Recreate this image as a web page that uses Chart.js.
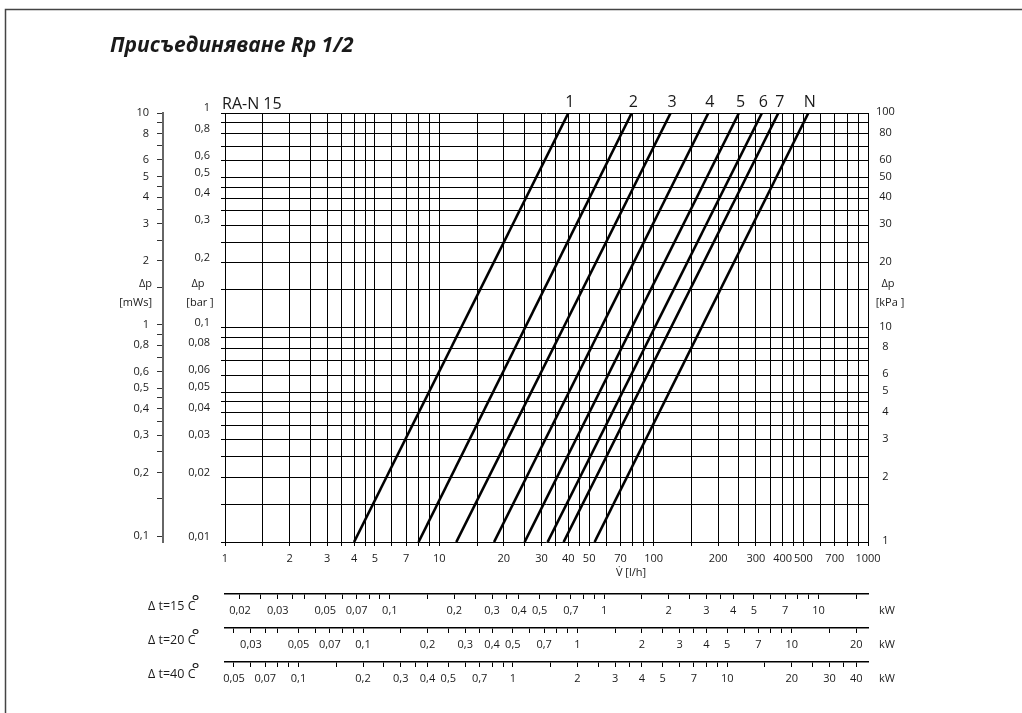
<!DOCTYPE html>
<html>
<head>
<meta charset="utf-8">
<title>RA-N 15</title>
<script src="https://cdn.jsdelivr.net/npm/chart.js@4/dist/chart.umd.min.js"></script>
<style>
    html, body { margin: 0; padding: 0; background: #fff; }
    canvas { display: block; }
</style>
</head>
<body>
<canvas id="raChart" width="1022" height="713"></canvas>
<script>
// texts on the sheet
var titleText = 'Присъединяване Rp 1/2';
var valveName = 'RA-N 15';
var flowTitle = 'V\u0307 [l/h]';
var unitTexts = ['[mWs]', '[bar ]', '[kPa ]'];

// presetting curves: flow [l/h] where each curve meets 0,01 bar and 1 bar
var curveNames = ['1', '2', '3', '4', '5', '6', '7', 'N'];
var flowAtBottom = [4, 8, 12, 18, 25, 32, 38, 53];
var flowAtTop = [40, 79, 120, 180, 250, 320, 382, 527];
var dpBottom = 0.01;
var dpTop = 1;

// axis ranges
var flowRange = [1, 1000];
var barRange = [0.01, 1];
var mwsRange = [0.0938, 10];
var kpaRange = [1, 100];

// grid / tick steps inside every decade
var gridSteps = [1, 1.5, 2, 2.5, 3, 3.5, 4, 4.5, 5, 6, 7, 8, 9];
var kwSteps = [1, 1.5, 2, 2.5, 3, 3.5, 4, 5, 6, 7, 8, 9];

// tick labels
var flowLabels = [1, 2, 3, 4, 5, 7, 10, 20, 30, 40, 50, 70, 100, 200, 300, 400, 500, 700, 1000];
var barLabels = [1, 0.8, 0.6, 0.5, 0.4, 0.3, 0.2, 0.1, 0.08, 0.06, 0.05, 0.04, 0.03, 0.02, 0.01];
var mwsLabels = [10, 8, 6, 5, 4, 3, 2, 1, 0.8, 0.6, 0.5, 0.4, 0.3, 0.2, 0.1];
var kpaLabels = [100, 80, 60, 50, 40, 30, 20, 10, 8, 6, 5, 4, 3, 2, 1];

// heat output scales under the flow axis
var deltaT = [15, 20, 40];
var kwPerLphK = 0.001135;
var kwLabels15 = [0.02, 0.03, 0.05, 0.07, 0.1, 0.2, 0.3, 0.4, 0.5, 0.7, 1, 2, 3, 4, 5, 7, 10];
var kwLabels20 = [0.03, 0.05, 0.07, 0.1, 0.2, 0.3, 0.4, 0.5, 0.7, 1, 2, 3, 4, 5, 7, 10, 20];
var kwLabels40 = [0.05, 0.07, 0.1, 0.2, 0.3, 0.4, 0.5, 0.7, 1, 2, 3, 4, 5, 7, 10, 20, 30, 40];
var kwLabels = [kwLabels15, kwLabels20, kwLabels40];

var FONT = '"Open Sans", "DejaVu Sans", sans-serif';
var INK = '#1a1a1a';

function decadeValues(min, max, steps) {
    var out = [];
    for (var e = Math.floor(Math.log10(min)); e <= Math.ceil(Math.log10(max)); e++) {
        steps.forEach(function (s) {
            var v = +(s * Math.pow(10, e)).toPrecision(6);
            if (v >= min * 0.9999 && v <= max * 1.0001) {
                out.push(v);
            }
        });
    }
    return out;
}

function fmt(v) {
    return String(+v.toPrecision(6)).replace('.', ',');
}

function labelCallback(list) {
    return function (v) {
        var hit = list.some(function (l) { return Math.abs(l - v) / l < 1e-6; });
        return hit ? fmt(v) : '';
    };
}

function setTicks(steps) {
    return function (scale) {
        scale.ticks = decadeValues(scale.min, scale.max, steps).map(function (v) {
            return { value: v };
        });
    };
}

function kwScale(i) {
    return {
        type: 'logarithmic',
        position: 'bottom',
        weight: i + 1,
        min: flowRange[0] * deltaT[i] * kwPerLphK,
        max: flowRange[1] * deltaT[i] * kwPerLphK,
        afterBuildTicks: setTicks(kwSteps),
        afterFit: function (s) { s.height = 34; },
        grid: { drawOnChartArea: false, drawTicks: true, tickLength: 5, color: '#000', lineWidth: 1 },
        border: { display: true, color: '#000', width: 1.5 },
        ticks: {
            autoSkip: false, maxRotation: 0, minRotation: 0, padding: 5,
            color: INK, font: { family: FONT, size: 11 },
            callback: labelCallback(kwLabels[i])
        }
    };
}

// all the loose texts of the sheet
var sheetText = {
    id: 'sheetText',
    afterDraw: function (chart) {
        var ctx = chart.ctx;
        var ca = chart.chartArea;
        var sc = chart.scales;
        ctx.save();

        // frame (top and left edge only)
        ctx.strokeStyle = '#444';
        ctx.lineWidth = 1.5;
        ctx.beginPath();
        ctx.moveTo(1022, 9.5);
        ctx.lineTo(5.5, 9.5);
        ctx.lineTo(5.5, 713);
        ctx.stroke();

        ctx.fillStyle = INK;
        ctx.textBaseline = 'alphabetic';

        // title
        ctx.font = 'italic bold 21px ' + FONT;
        ctx.textAlign = 'left';
        ctx.fillText(titleText, 110, 51.5);

        // valve name and curve names
        ctx.font = '16px ' + FONT;
        ctx.fillText(valveName, 222, 109);
        ctx.textAlign = 'center';
        chart.data.datasets.forEach(function (ds, i) {
            var pt = chart.getDatasetMeta(i).data[1];
            ctx.fillText(ds.label, pt.x + 1.5, 106.5);
        });

        // Δp + unit next to the three pressure scales
        ctx.font = '11px ' + FONT;
        ctx.textBaseline = 'middle';
        var py = sc.y.getPixelForValue(0.15);
        [[sc.mws, 'right', 152], [sc.y, 'center', 198], [sc.kpa, 'center', 888]].forEach(function (a, i) {
            ctx.textAlign = a[1];
            ctx.fillText('Δp', a[2], py - 6);
            ctx.fillText(unitTexts[i], a[2] + (i === 0 ? 0 : 2), py + 13);
        });

        // flow title
        ctx.textAlign = 'center';
        ctx.fillText(flowTitle, 631, sc.x.top + 31);

        // heat output captions
        deltaT.forEach(function (dt, i) {
            var s = sc['kw' + dt];
            var caption = 'Δ t=' + dt + ' C';
            ctx.font = '12.5px ' + FONT;
            ctx.textAlign = 'left';
            ctx.fillText(caption, 148, s.top + 12);
            var w = ctx.measureText(caption).width;
            ctx.font = '19px ' + FONT;
            ctx.fillText('°', 148 + w - 4, s.top + 9);
            ctx.font = '11px ' + FONT;
            ctx.textAlign = 'center';
            ctx.fillText('kW', ca.right + 19, s.top + 17);
        });

        ctx.restore();
    }
};

var datasets = curveNames.map(function (name, i) {
    return {
        label: name,
        data: [{ x: flowAtBottom[i], y: dpBottom }, { x: flowAtTop[i], y: dpTop }],
        borderColor: '#000',
        borderWidth: 2.6,
        pointRadius: 0,
        fill: false,
        tension: 0
    };
});

var scales = {
    x: {
        type: 'logarithmic',
        position: 'bottom',
        weight: 0,
        min: flowRange[0],
        max: flowRange[1],
        afterBuildTicks: setTicks(gridSteps),
        afterFit: function (s) { s.height = 52; },
        grid: { color: '#000', lineWidth: 1, drawTicks: true, tickLength: 4 },
        border: { display: false },
        ticks: {
            autoSkip: false, maxRotation: 0, minRotation: 0, padding: 6,
            color: INK, font: { family: FONT, size: 11 },
            callback: labelCallback(flowLabels)
        }
    },
    y: {
        type: 'logarithmic',
        position: 'left',
        weight: 1,
        min: barRange[0],
        max: barRange[1],
        afterBuildTicks: setTicks(gridSteps),
        afterFit: function (s) { s.width = 62; },
        grid: { color: '#000', lineWidth: 1, drawTicks: true, tickLength: 4 },
        border: { display: false },
        ticks: {
            autoSkip: false, padding: 11, labelOffset: -5,
            color: INK, font: { family: FONT, size: 11 },
            callback: labelCallback(barLabels)
        }
    },
    mws: {
        type: 'logarithmic',
        position: 'left',
        weight: 2,
        min: mwsRange[0],
        max: mwsRange[1],
        afterBuildTicks: setTicks(gridSteps),
        afterFit: function (s) { s.width = 63; },
        grid: { drawOnChartArea: false, drawTicks: true, tickLength: 6, color: '#333', lineWidth: 1 },
        border: { display: true, color: '#666', width: 2 },
        ticks: {
            autoSkip: false, padding: 8,
            color: INK, font: { family: FONT, size: 11 },
            callback: labelCallback(mwsLabels)
        }
    },
    kpa: {
        type: 'logarithmic',
        position: 'right',
        min: kpaRange[0],
        max: kpaRange[1],
        afterBuildTicks: setTicks(gridSteps),
        afterFit: function (s) { s.width = 44; },
        grid: { display: false, drawTicks: false },
        border: { display: false },
        ticks: {
            autoSkip: false, padding: 8, crossAlign: 'center', labelOffset: -1,
            color: INK, font: { family: FONT, size: 11 },
            callback: labelCallback(kpaLabels)
        }
    }
};
deltaT.forEach(function (dt, i) {
    scales['kw' + dt] = kwScale(i);
});

var ctx = document.getElementById('raChart').getContext('2d');
var raChart = new Chart(ctx, {
    type: 'line',
    data: { datasets: datasets },
    options: {
        responsive: false,
        devicePixelRatio: 1,
        animation: false,
        layout: { padding: { left: 100, right: 110, top: 113, bottom: 17 } },
        plugins: {
            legend: { display: false },
            tooltip: { enabled: false },
            title: { display: false }
        },
        scales: scales
    },
    plugins: [sheetText]
});
</script>
</body>
</html>
